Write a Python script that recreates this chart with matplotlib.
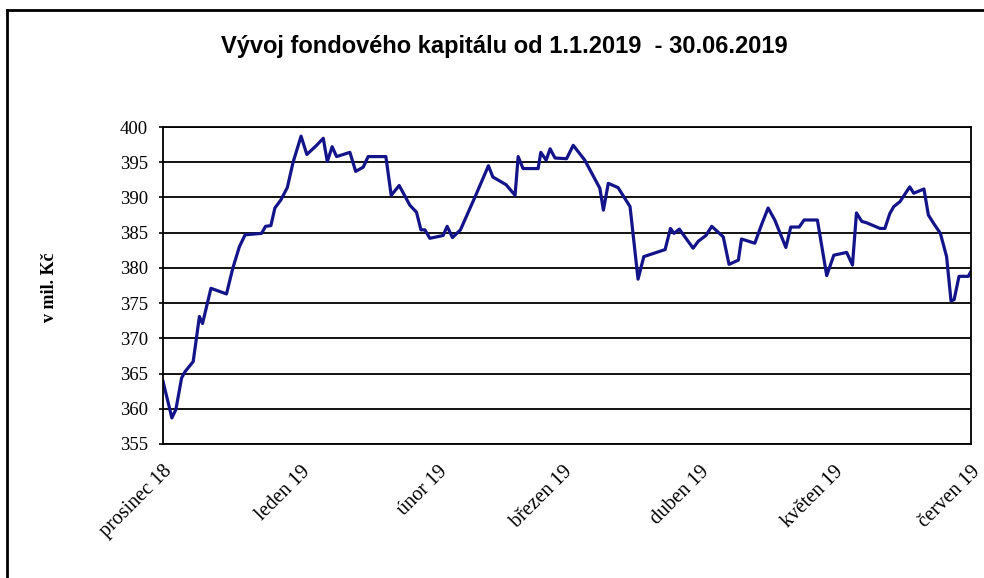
import matplotlib
matplotlib.use('Agg')
import matplotlib.pyplot as plt

# days since 1.12.2018
days = [0, 2.0, 2.9, 4.2, 5.0, 6.8, 8.2, 8.9, 10.8, 14.3, 15.7, 17.2, 18.5, 22.2,
        23.1, 24.3, 25.2, 26.5, 28.0, 29.3, 31.1, 32.4, 34.6, 36.1, 37.0, 38.1,
        39.1, 42.1, 43.4, 45.1, 46.2, 50.2, 51.4, 53.2, 55.6, 57.1, 58.1, 59.0,
        60.1, 63.1, 64.0, 65.2, 67.0, 70.3, 73.3, 74.3, 77.3, 79.3, 80.0, 81.1,
        84.5, 85.1, 86.3, 87.2, 88.3, 90.9, 92.4, 95.0, 98.4, 99.2, 100.3, 102.5,
        105.2, 107.0, 108.3, 113.1, 114.3, 115.1, 116.3, 119.4, 120.6, 122.3,
        123.6, 126.2, 127.5, 129.6, 130.3, 133.3, 134.8, 136.3, 137.8, 140.3,
        141.4, 143.3, 144.4, 147.4, 149.5, 151.1, 154.0, 155.3, 156.2, 157.4,
        158.5, 161.5, 162.6, 163.7, 164.6, 166.0, 168.2, 169.1, 171.4, 172.4,
        173.6, 175.1, 176.5, 177.5, 178.2, 179.3, 181.4, 182.0]

# fund capital, mil. CZK
capital = [363.9, 358.7, 359.9, 364.4, 365.3, 366.7, 373.1, 372.1, 377.1, 376.3,
           379.9, 383.0, 384.7, 384.9, 385.9, 386.0, 388.5, 389.6, 391.4, 395.0,
           398.7, 396.1, 397.4, 398.4, 395.1, 397.2, 395.8, 396.4, 393.7, 394.3,
           395.8, 395.8, 390.3, 391.7, 388.9, 387.9, 385.4, 385.4, 384.2, 384.6,
           385.9, 384.3, 385.4, 390.1, 394.5, 392.9, 391.8, 390.3, 395.8, 394.1,
           394.1, 396.4, 395.3, 396.9, 395.6, 395.5, 397.4, 395.3, 391.3, 388.2,
           392.0, 391.4, 388.7, 378.4, 381.6, 382.6, 385.6, 384.9, 385.5, 382.8,
           383.8, 384.6, 385.9, 384.4, 380.5, 381.1, 384.1, 383.5, 386.1, 388.5,
           386.8, 382.9, 385.8, 385.8, 386.8, 386.8, 378.9, 381.8, 382.2, 380.4,
           387.8, 386.6, 386.4, 385.6, 385.6, 387.7, 388.7, 389.4, 391.5, 390.6,
           391.2, 387.5, 386.3, 384.9, 381.6, 375.3, 375.5, 378.8, 378.8, 379.5]

month_days = [0, 31, 62, 90, 121, 151, 182]
month_labels = ['prosinec 18', 'leden 19', 'únor 19', 'březen 19',
                'duben 19', 'květen 19', 'červen 19']
y_ticks = list(range(355, 401, 5))

fig = plt.figure(figsize=(9.84, 5.78), dpi=100)
ax = fig.add_axes([163 / 984, 1 - 444 / 578, (971 - 163) / 984, (444 - 127) / 578])

# outer frame (only left and top visible in the original crop)
fig.add_artist(plt.Line2D([7 / 984, 7 / 984], [0, 1 - 10 / 578], color='black', lw=2))
fig.add_artist(plt.Line2D([7 / 984, 1], [1 - 10 / 578, 1 - 10 / 578], color='black', lw=2))

ax.plot(days, capital, color='#14148a', lw=2.3)

ax.set_xlim(0, 182)
ax.set_ylim(355, 400)
ax.set_yticks(y_ticks)
ax.yaxis.grid(True, color='black', lw=1.3)
ax.set_axisbelow(True)
for s in ax.spines.values():
    s.set_linewidth(1.3)

serif = ['Liberation Serif', 'DejaVu Serif']
ax.set_yticklabels([str(v) for v in y_ticks], family=serif, fontsize=13.5)
ax.tick_params(axis='y', length=3, width=1.2, pad=8)
ax.set_xticks(month_days)
ax.set_xticklabels(month_labels, family=serif, fontsize=14.5,
                   rotation=45, ha='right', va='top', rotation_mode='anchor')
ax.tick_params(axis='x', length=0, pad=13)

fig.text(50 / 984, 1 - 287 / 578, 'v mil. Kč', rotation=90, ha='center', va='center',
         family=serif, fontweight='bold', fontsize=13)

fig.text(504 / 984, 1 - 47 / 578, 'Vývoj fondového kapitálu od 1.1.2019  - 30.06.2019',
         ha='center', va='center', family=['Liberation Sans Narrow', 'Liberation Sans'],
         fontweight='bold', fontsize=17)

fig.savefig('out.png', dpi=100)
